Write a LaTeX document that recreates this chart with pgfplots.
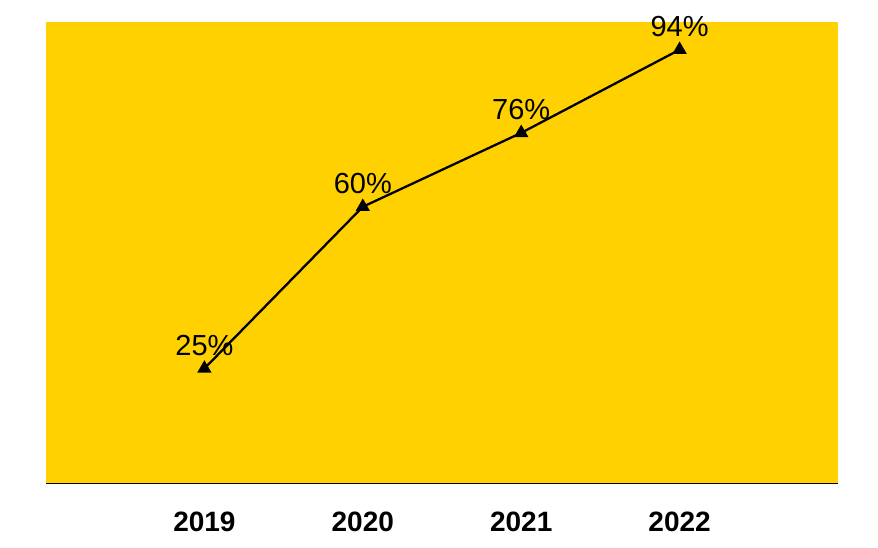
\documentclass[border=0pt]{standalone}
\usepackage{pgfplots}
\pgfplotsset{compat=1.18}
\usepackage{fontspec}
\setmainfont{Liberation Sans}
\definecolor{bgyellow}{HTML}{FFD100}
\begin{document}
\begin{tikzpicture}[x=1pt,y=1pt]
\path (0,0) rectangle (878,548);
\begin{axis}[
  at={(46pt,64pt)}, anchor=south west,
  scale only axis, width=792pt, height=462pt,
  xmin=2018, xmax=2023, ymin=0, ymax=100,
  axis x line*=bottom, axis y line=none,
  axis line style={-, black, line width=1pt},
  axis background/.style={fill=bgyellow},
  xtick={2019,2020,2021,2022},
  xticklabels={2019,2020,2021,2022},
  major tick length=0pt,
  xticklabel style={font=\fontsize{28}{32}\selectfont\bfseries, yshift=-24pt},
  clip=false,
  /pgf/number format/assume math mode=true,
  nodes near coords={\pgfmathprintnumber[fixed,precision=0,assume math mode=true]{\pgfplotspointmeta}\%},
  every node near coord/.style={font=\fontsize{29}{33}\selectfont, anchor=base, yshift=13pt, inner sep=0pt, black},
]
\addplot[black, line width=2.3pt, mark=triangle*, mark size=6pt, mark options={solid}] coordinates {
(2019,25) (2020,60) (2021,76) (2022,94)
};
\end{axis}
\end{tikzpicture}
\end{document}
